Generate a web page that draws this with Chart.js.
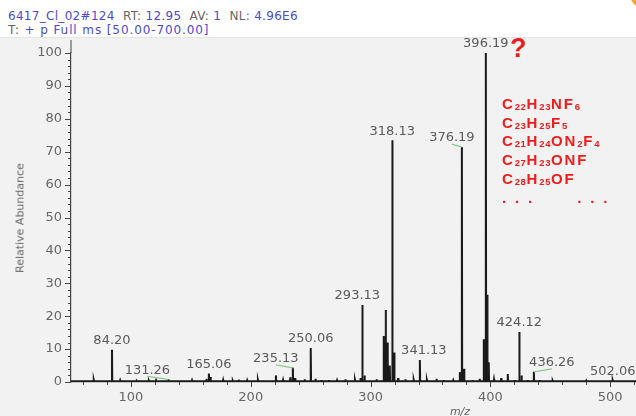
<!DOCTYPE html>
<html>
<head>
<meta charset="utf-8">
<script src="https://cdn.jsdelivr.net/npm/chart.js@4.4.1/dist/chart.umd.min.js"></script>
<style>
  body { margin: 0; width: 636px; height: 416px; overflow: hidden; background: #f2f2f2; position: relative; font-family: "DejaVu Sans", sans-serif; }
  #top { position: absolute; left: 0; top: 0; width: 636px; height: 37px; background: #fff; border-bottom: 1px solid #e4e4e4; }
  #header { position: absolute; left: 8px; top: 10px; font-size: 12px; line-height: 13.5px; color: #4b4bd0; white-space: pre; }
  #header .k { color: #666; }
  #header .l1 { letter-spacing: 0.3px; }
  #header .l2 { letter-spacing: 0.9px; }
  #sun { position: absolute; left: 628px; top: -36px; width: 48px; height: 48px; border-radius: 50%; background: #f6a623; }
  canvas { position: absolute; left: 0; top: 0; }
  #ytitle { position: absolute; left: 20px; top: 218px; transform: translate(-50%, -50%) rotate(-90deg); font-size: 11px; color: #666; white-space: nowrap; }
  #xtitle { position: absolute; left: 460px; top: 405px; transform: translateX(-50%); font-size: 11px; color: #666; font-style: italic; }
  #qmark { position: absolute; left: 510px; top: 33px; font: bold 27px "Liberation Sans", Arial, sans-serif; color: #f01c1c; }
  #formulas { position: absolute; left: 502px; top: 95px; font: bold 15px "Liberation Sans", Arial, sans-serif; letter-spacing: 1.9px; line-height: 18.7px; color: #f01c1c; }
  #formulas div { height: 18.7px; }
  #formulas .dots { margin-top: 5px; }
  #formulas sub { font-size: 9.5px; vertical-align: baseline; position: relative; top: 1px; line-height: 0; letter-spacing: 0.6px; }
</style>
</head>
<body>
<div id="top"></div>
<div id="header"><span class="l1">6417_Cl_02#124  <span class="k">RT:</span> 12.95  <span class="k">AV:</span> 1  <span class="k">NL:</span> 4.96E6</span>
<span class="l2"><span class="k">T:</span> + p Full ms [50.00-700.00]</span></div>
<div id="sun"></div>
<canvas id="msChart" width="636" height="416"></canvas>
<div id="ytitle">Relative Abundance</div>
<div id="xtitle">m/z</div>
<div id="qmark">?</div>
<div id="formulas">
  <div>C<sub>22</sub>H<sub>23</sub>NF<sub>6</sub></div>
  <div>C<sub>23</sub>H<sub>25</sub>F<sub>5</sub></div>
  <div>C<sub>21</sub>H<sub>24</sub>ON<sub>2</sub>F<sub>4</sub></div>
  <div>C<sub>27</sub>H<sub>23</sub>ONF</div>
  <div>C<sub>28</sub>H<sub>25</sub>OF</div>
  <div class="dots">· · ·&nbsp;&nbsp;&nbsp;&nbsp;&nbsp;&nbsp;&nbsp;· · ·</div>
</div>
<script>
// spectrum (m/z, relative abundance %)
const mzValues = [
  58, 63, 69, 77, 84.20, 91, 97, 105, 115, 121, 131.26, 143, 151, 163, 165.06, 166.5,
  177, 185, 190, 197, 206, 213, 221, 227, 233, 235.13, 237, 245, 250.06, 254, 259, 265,
  272, 279, 287, 291.5, 293.13, 295, 305, 311.0, 312.6, 314.2, 316.0, 318.13, 319.8, 323,
  329, 336, 341.13, 347, 355, 361, 369, 374.5, 376.19, 378, 385, 391, 394.5, 396.19, 397.3, 398.6,
  403, 409, 414.5, 420, 424.12, 426, 431, 436.26, 441, 452, 466, 480, 492, 502.06, 512
];
const abundance = [
  0.4, 0.3, 0.6, 0.5, 9.8, 0.5, 0.4, 0.3, 0.4, 0.5, 0.8, 0.4, 0.5, 1.0, 2.6, 1.5,
  0.6, 0.4, 0.7, 0.5, 0.6, 0.5, 2.0, 0.6, 1.4, 4.3, 1.2, 0.8, 10.3, 1.0, 0.6, 0.6,
  0.5, 0.8, 0.6, 1.2, 23.4, 2.0, 0.8, 14, 21.9, 12, 5, 73.5, 9, 1.2,
  0.8, 0.6, 6.7, 0.6, 1.0, 0.6, 0.5, 3, 71.4, 4, 0.6, 1.0, 13, 100, 26.5, 6,
  0.8, 1.2, 2.4, 0.6, 15.2, 2, 0.6, 3.1, 0.6, 0.4, 0.3, 0.4, 0.3, 0.5, 0.3
];
// peaks carrying a label
const labelMz = [84.20, 131.26, 165.06, 235.13, 250.06, 293.13, 318.13, 341.13, 376.19, 396.19, 424.12, 436.26, 502.06];

const xMinorStep = 20;
const yMinorStep = 2;

// label placement (px) relative to the peak top
const labelShift = [0, -21, 0, -17, 0, -5, 0, 4, -10, 0, 0, 18, 0];
const labelLeader = [false, true, false, true, false, false, false, false, true, false, false, true, false];

// each peak as a stick: baseline -> top -> baseline
const points = [{ x: 50, y: 0.2 }];
mzValues.forEach((m, i) => {
  points.push({ x: m - 0.25, y: 0.2 });
  points.push({ x: m, y: abundance[i] });
  points.push({ x: m + 0.25, y: 0.2 });
});
points.push({ x: 521.5, y: 0.2 });

const spectrumDecor = {
  id: "spectrumDecor",
  afterDatasetsDraw(chart) {
    const { ctx, scales: { x, y }, chartArea } = chart;
    ctx.save();
    ctx.strokeStyle = "#444";
    ctx.lineWidth = 1;

    // y axis runs up to the top of the window
    ctx.beginPath();
    ctx.moveTo(chartArea.left, 40);
    ctx.lineTo(chartArea.left, chartArea.top);
    ctx.stroke();

    // tick marks: long at labelled values, short in between
    ctx.beginPath();
    for (let v = 0; v <= 100; v += yMinorStep) {
      const py = Math.round(y.getPixelForValue(v)) + 0.5;
      const len = v % 10 === 0 ? 6 : 3;
      ctx.moveTo(chartArea.left - len, py);
      ctx.lineTo(chartArea.left, py);
    }
    for (let v = 60; v <= x.max; v += xMinorStep) {
      const px = Math.round(x.getPixelForValue(v)) + 0.5;
      const len = v % 100 === 0 ? 5 : 3;
      ctx.moveTo(px, chartArea.bottom);
      ctx.lineTo(px, chartArea.bottom + len);
    }
    ctx.stroke();

    ctx.font = "13px 'DejaVu Sans'";
    ctx.textAlign = "center";
    ctx.textBaseline = "middle";
    labelMz.forEach((m, i) => {
      const h = abundance[mzValues.indexOf(m)];
      const px = x.getPixelForValue(m);
      const py = y.getPixelForValue(h);
      const lx = px + labelShift[i];
      const ly = py - 9;
      if (labelLeader[i]) {
        ctx.strokeStyle = "#8cc88c";
        ctx.lineWidth = 1.2;
        ctx.beginPath();
        ctx.moveTo(lx, ly + 6);
        ctx.lineTo(px, py);
        ctx.stroke();
      }
      ctx.fillStyle = "#5a5a5a";
      ctx.fillText(m.toFixed(2), lx, ly);
    });
    ctx.restore();
  }
};

new Chart(document.getElementById("msChart"), {
  type: "scatter",
  data: {
    datasets: [
      {
        data: points,
        showLine: true,
        borderColor: "#1a1a1a",
        borderWidth: 2,
        pointRadius: 0,
        tension: 0,
      },
    ],
  },
  options: {
    responsive: false,
    animation: false,
    layout: { padding: { top: 53, left: 0, right: 0, bottom: 0 } },
    plugins: { legend: { display: false }, tooltip: { enabled: false } },
    scales: {
      x: {
        type: "linear",
        min: 50,
        max: 521.5,
        border: { color: "#444", width: 1.2 },
        grid: { drawOnChartArea: false, drawTicks: false },
        ticks: {
          stepSize: 100,
          includeBounds: false,
          autoSkip: false,
          maxRotation: 0,
          padding: 8,
          color: "#666",
          font: { family: "DejaVu Sans", size: 13 },
        },
        afterFit: (s) => { s.height = 34; },
      },
      y: {
        min: 0,
        max: 100,
        border: { color: "#444", width: 1.2 },
        grid: { drawOnChartArea: false, drawTicks: false },
        ticks: {
          stepSize: 10,
          autoSkip: false,
          padding: 9,
          color: "#666",
          font: { family: "DejaVu Sans", size: 13 },
        },
        afterFit: (s) => { s.width = 71; },
      },
    },
  },
  plugins: [spectrumDecor],
});
</script>
</body>
</html>
